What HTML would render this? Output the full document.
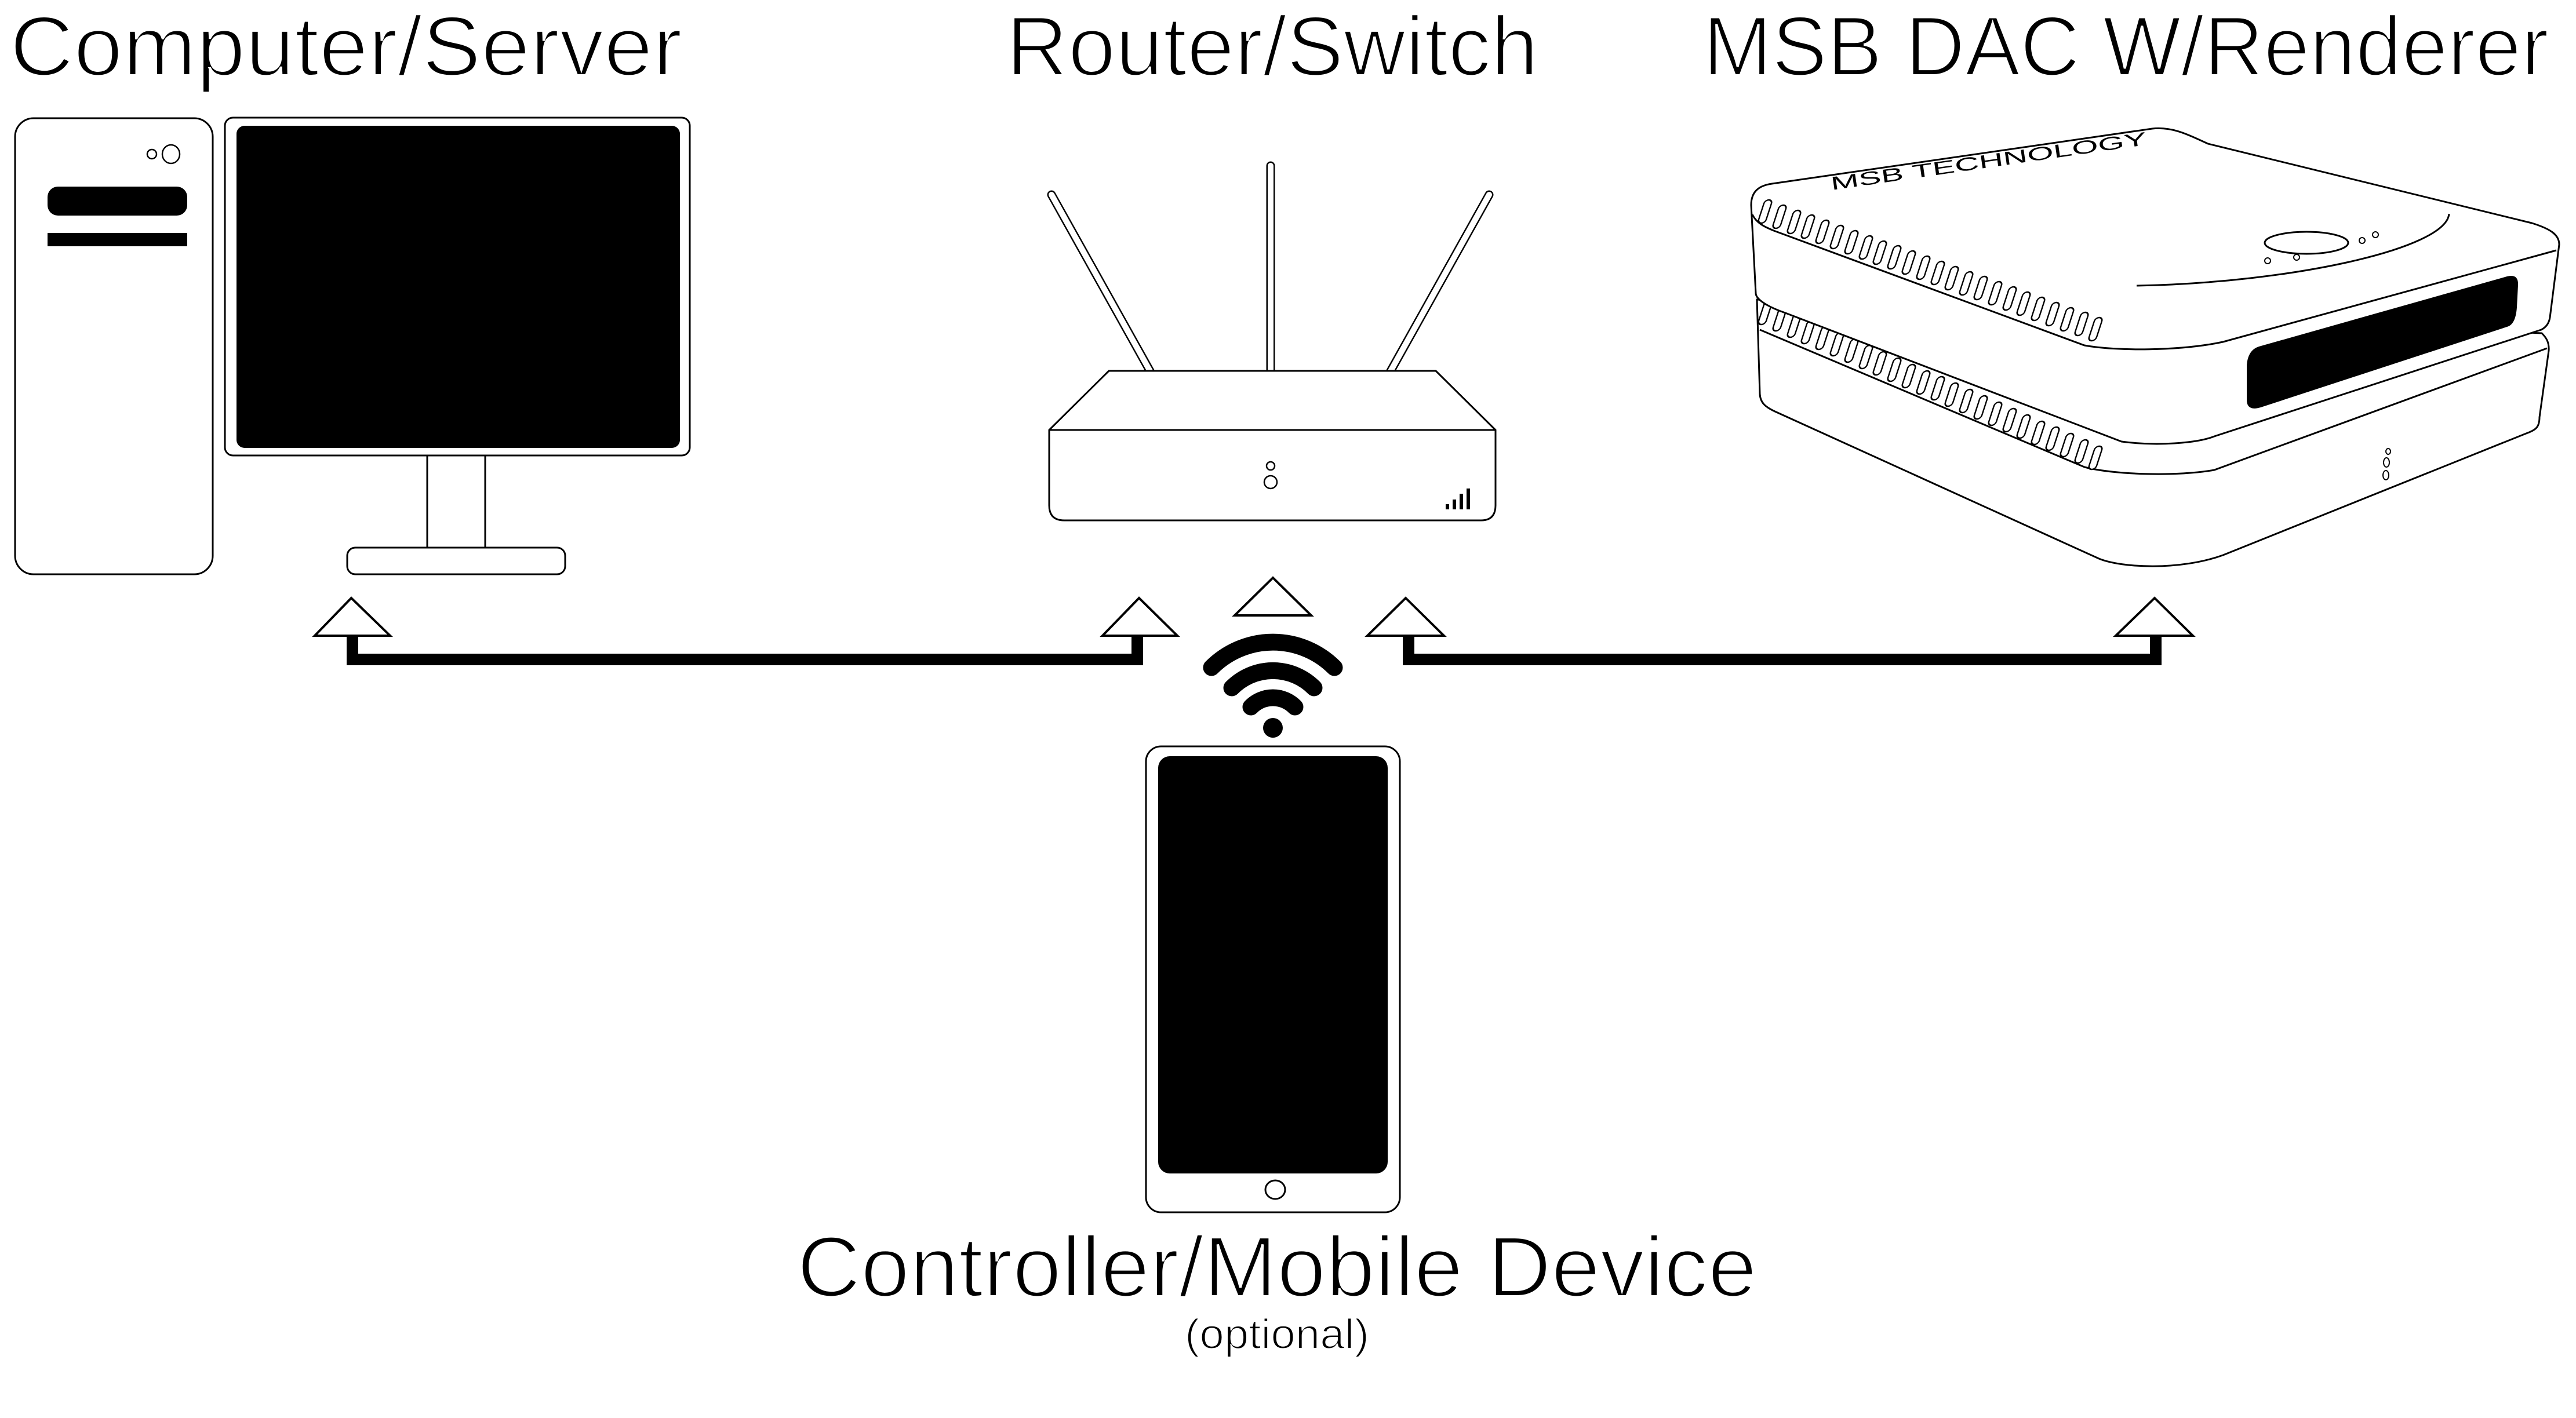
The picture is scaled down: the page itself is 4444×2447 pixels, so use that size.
<!DOCTYPE html>
<html><head><meta charset="utf-8"><style>
html,body{margin:0;padding:0;background:#fff;}
svg{display:block;}
text{font-family:"Liberation Sans",sans-serif;fill:#000;}
.t{stroke:#fff;stroke-width:4;}
</style></head><body>
<svg width="4444" height="2447" viewBox="0 0 4444 2447" xmlns="http://www.w3.org/2000/svg">
<rect width="4444" height="2447" fill="#fff"/>
<defs>
<rect id="slot" x="-6.5" y="-20" width="13" height="40" rx="6.5" fill="#fff" stroke="#000" stroke-width="2.5" transform="skewX(-18)"/>
</defs>

<!-- Titles -->
<text class="t" x="17" y="130" font-size="146" textLength="1160" lengthAdjust="spacingAndGlyphs">Computer/Server</text>
<text class="t" x="1736" y="130" font-size="146" textLength="918" lengthAdjust="spacingAndGlyphs">Router/Switch</text>
<text class="t" x="2938" y="130" font-size="146" textLength="1459" lengthAdjust="spacingAndGlyphs">MSB DAC W/Renderer</text>
<text class="t" x="1375" y="2237" font-size="148" textLength="1656" lengthAdjust="spacingAndGlyphs">Controller/Mobile Device</text>
<text class="t" style="stroke-width:2" x="2044" y="2327" font-size="72" textLength="318" lengthAdjust="spacingAndGlyphs">(optional)</text>

<!-- Tower -->
<rect x="26" y="204" width="341" height="787" rx="32" fill="#fff" stroke="#000" stroke-width="3"/>
<ellipse cx="262" cy="266" rx="8" ry="8" fill="none" stroke="#000" stroke-width="2.5"/>
<ellipse cx="295" cy="266" rx="15" ry="16" fill="none" stroke="#000" stroke-width="2.5"/>
<rect x="82" y="322" width="241" height="50" rx="18" fill="#000"/>
<rect x="82" y="402" width="241" height="23" fill="#000"/>

<!-- Monitor -->
<rect x="737" y="780" width="100" height="168" fill="#fff" stroke="#000" stroke-width="3"/>
<rect x="599" y="945" width="376" height="46" rx="14" fill="#fff" stroke="#000" stroke-width="3"/>
<rect x="388" y="203" width="802" height="583" rx="14" fill="#fff" stroke="#000" stroke-width="3"/>
<rect x="408" y="217" width="765" height="556" rx="14" fill="#000"/>

<!-- Router antennas -->
<g stroke-linecap="round">
<line x1="1814" y1="336" x2="1995" y2="660" stroke="#000" stroke-width="15"/>
<line x1="1814" y1="336" x2="1995" y2="660" stroke="#fff" stroke-width="10"/>
<line x1="2192" y1="286" x2="2192" y2="660" stroke="#000" stroke-width="15"/>
<line x1="2192" y1="286" x2="2192" y2="660" stroke="#fff" stroke-width="10"/>
<line x1="2569" y1="336" x2="2388" y2="660" stroke="#000" stroke-width="15"/>
<line x1="2569" y1="336" x2="2388" y2="660" stroke="#fff" stroke-width="10"/>
</g>
<!-- Router body -->
<path d="M1913,640 L2477,640 L2580,742 L2580,872 Q2580,898 2555,898 L1836,898 Q1810,898 1810,872 L1810,742 Z" fill="#fff" stroke="#000" stroke-width="3"/>
<line x1="1810" y1="742" x2="2580" y2="742" stroke="#000" stroke-width="3"/>
<circle cx="2192" cy="804" r="7" fill="none" stroke="#000" stroke-width="2.5"/>
<circle cx="2192" cy="832" r="11" fill="none" stroke="#000" stroke-width="2.5"/>
<g fill="#000">
<rect x="2494" y="870" width="6" height="9"/>
<rect x="2506" y="862" width="6" height="17"/>
<rect x="2518" y="852" width="6" height="27"/>
<rect x="2530" y="843" width="6" height="36"/>
</g>

<!-- DAC bottom unit -->
<path d="M3031,517 L3036,680 C3037,695 3045,702 3062,710 L3621,964 C3660,980 3760,985 3835,958 L4358,748 C4375,742 4381,737 4381,720 L4397,605 C4398,590 4392,582 4385,575 L3031,517 Z" fill="#fff" stroke="#000" stroke-width="3"/>
<path d="M3036,569 L3596,806 C3650,820 3760,822 3820,811 L4394,601" fill="none" stroke="#000" stroke-width="3"/>
<g>
<use href="#slot" x="3045" y="540"/><use href="#slot" x="3070" y="551"/><use href="#slot" x="3095" y="562"/><use href="#slot" x="3119" y="573"/>
<use href="#slot" x="3144" y="583"/><use href="#slot" x="3169" y="594"/><use href="#slot" x="3194" y="605"/><use href="#slot" x="3219" y="616"/>
<use href="#slot" x="3243" y="627"/><use href="#slot" x="3268" y="638"/><use href="#slot" x="3293" y="649"/><use href="#slot" x="3318" y="660"/>
<use href="#slot" x="3343" y="670"/><use href="#slot" x="3367" y="681"/><use href="#slot" x="3392" y="692"/><use href="#slot" x="3417" y="703"/>
<use href="#slot" x="3442" y="714"/><use href="#slot" x="3467" y="725"/><use href="#slot" x="3491" y="736"/><use href="#slot" x="3516" y="747"/>
<use href="#slot" x="3541" y="757"/><use href="#slot" x="3566" y="768"/><use href="#slot" x="3591" y="779"/><use href="#slot" x="3615" y="790"/>
</g>
<ellipse cx="4120" cy="779" rx="4" ry="5" fill="none" stroke="#000" stroke-width="2"/>
<ellipse cx="4117" cy="798" rx="5" ry="8" fill="none" stroke="#000" stroke-width="2"/>
<ellipse cx="4116" cy="820" rx="5" ry="8" fill="none" stroke="#000" stroke-width="2"/>

<!-- DAC top unit -->
<path d="M3021,354 C3021,330 3035,320 3057,317 L3713,222 C3750,218 3780,235 3809,248 L4368,385 C4400,395 4415,405 4415,422 L4399,548 C4397,560 4390,566 4384,569 L3820,753 C3790,765 3720,770 3660,762 L3080,540 C3045,528 3029,515 3029,506 Z" fill="#fff" stroke="#000" stroke-width="3"/>
<path d="M3023,370 C3030,385 3045,392 3060,398 L3596,596 C3650,606 3760,606 3835,590 L4410,432" fill="none" stroke="#000" stroke-width="3"/>
<g>
<use href="#slot" x="3045" y="365"/><use href="#slot" x="3070" y="374"/><use href="#slot" x="3095" y="383"/><use href="#slot" x="3119" y="391"/>
<use href="#slot" x="3144" y="400"/><use href="#slot" x="3169" y="409"/><use href="#slot" x="3194" y="418"/><use href="#slot" x="3219" y="427"/>
<use href="#slot" x="3243" y="436"/><use href="#slot" x="3268" y="444"/><use href="#slot" x="3293" y="453"/><use href="#slot" x="3318" y="462"/>
<use href="#slot" x="3343" y="471"/><use href="#slot" x="3367" y="480"/><use href="#slot" x="3392" y="489"/><use href="#slot" x="3417" y="497"/>
<use href="#slot" x="3442" y="506"/><use href="#slot" x="3467" y="515"/><use href="#slot" x="3491" y="524"/><use href="#slot" x="3516" y="533"/>
<use href="#slot" x="3541" y="542"/><use href="#slot" x="3566" y="551"/><use href="#slot" x="3591" y="559"/><use href="#slot" x="3615" y="568"/>
</g>
<text x="0" y="0" font-size="32" textLength="550" lengthAdjust="spacingAndGlyphs" transform="translate(3160,328) rotate(-8.2)">MSB TECHNOLOGY</text>
<path d="M3686,493 C3950,488 4220,430 4225,369" fill="none" stroke="#000" stroke-width="3"/>
<ellipse cx="3979" cy="419" rx="72" ry="19" fill="none" stroke="#000" stroke-width="3"/>
<circle cx="3912" cy="450" r="5" fill="none" stroke="#000" stroke-width="2"/>
<circle cx="3962" cy="444" r="5" fill="none" stroke="#000" stroke-width="2"/>
<circle cx="4075" cy="415" r="5" fill="none" stroke="#000" stroke-width="2"/>
<circle cx="4098" cy="405" r="5" fill="none" stroke="#000" stroke-width="2"/>
<path d="M3897,598 L4325,477 Q4345,472 4344,492 L4342,530 Q4340,560 4325,564 L3900,703 Q3876,710 3876,690 L3876,630 Q3878,604 3897,598 Z" fill="#000"/>

<!-- Triangles -->
<g fill="#fff" stroke="#000" stroke-width="4">
<polygon points="606,1032 543,1097 673,1097"/>
<polygon points="1965,1032 1902,1097 2031,1097"/>
<polygon points="2196,997 2130,1062 2262,1062"/>
<polygon points="2425,1032 2359,1097 2491,1097"/>
<polygon points="3717,1032 3650,1097 3783,1097"/>
</g>
<!-- Connectors -->
<path d="M608,1097 V1138 H1962 V1097" fill="none" stroke="#000" stroke-width="20"/>
<path d="M2430,1097 V1138 H3719 V1097" fill="none" stroke="#000" stroke-width="20"/>

<!-- WiFi -->
<g fill="none" stroke="#000" stroke-width="29" stroke-linecap="round">
<path d="M2090,1152 A150,150 0 0 1 2302,1152"/>
<path d="M2125,1187 A100,100 0 0 1 2267,1187"/>
<path d="M2158,1220 A53,53 0 0 1 2234,1220"/>
</g>
<circle cx="2196" cy="1256" r="17" fill="#000"/>

<!-- Phone -->
<rect x="1977" y="1288" width="438" height="804" rx="26" fill="#fff" stroke="#000" stroke-width="3"/>
<rect x="1998" y="1305" width="396" height="720" rx="20" fill="#000"/>
<ellipse cx="2200" cy="2053" rx="17" ry="16" fill="none" stroke="#000" stroke-width="3"/>
</svg>
</body></html>
